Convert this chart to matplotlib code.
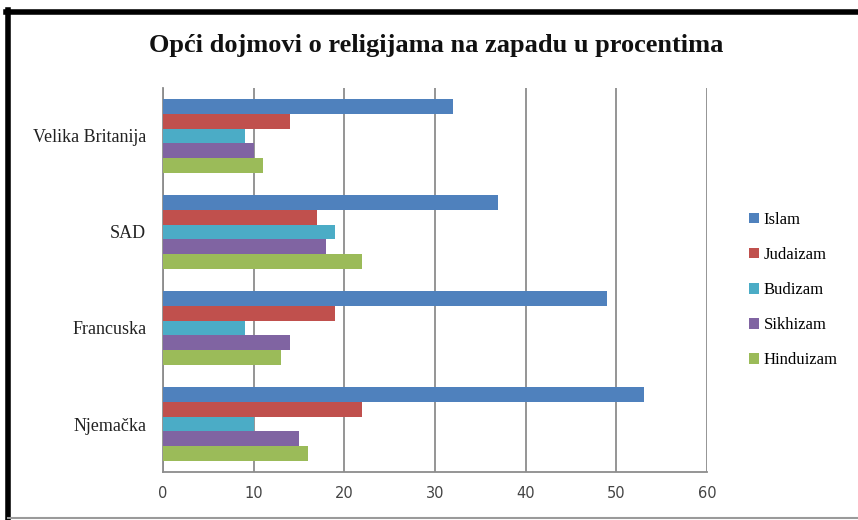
import numpy as np
import matplotlib
matplotlib.use("Agg")
import matplotlib.pyplot as plt
from matplotlib.lines import Line2D

# ----------------------------------------------------------------
# Data
# ----------------------------------------------------------------
countries = ["Velika Britanija", "SAD", "Francuska", "Njemačka"]
islam     = [32, 37, 49, 53]
judaizam  = [14, 17, 19, 22]
budizam   = [9, 19, 9, 10]
sikhizam  = [10, 18, 14, 15]
hinduizam = [11, 22, 13, 16]

series_names  = ["Islam", "Judaizam", "Budizam", "Sikhizam", "Hinduizam"]
series_vals   = [islam, judaizam, budizam, sikhizam, hinduizam]
series_colors = ["#4F81BD", "#C0504D", "#4BACC6", "#8064A2", "#9BBB59"]
x_ticks = [0, 10, 20, 30, 40, 50, 60]

SERIF = "Liberation Serif"

# ----------------------------------------------------------------
# Plot
# ----------------------------------------------------------------
fig = plt.figure(figsize=(8.58, 5.2), dpi=100)
ax = fig.add_axes([0.190, 0.0923, 0.634, 0.7385])

n_ser = len(series_names)
h = 1.0 / (n_ser + 1.5)
# categories top to bottom: first country at top
ypos = np.arange(len(countries))[::-1]
for i, (name, vals, col) in enumerate(zip(series_names, series_vals, series_colors)):
    offs = (n_ser - 1) / 2 * h - i * h
    ax.barh(ypos + offs, vals, height=h, color=col, edgecolor="none",
            label=name, zorder=3)

ax.set_xlim(0, 60)
ax.set_ylim(-0.5, len(countries) - 0.5)
ax.set_xticks(x_ticks)
ax.set_xticklabels([str(t) for t in x_ticks], fontsize=10.5,
                   family="DejaVu Sans", color="#444444")
ax.set_yticks(ypos)
ax.set_yticklabels(countries, fontsize=13, family=SERIF, color="#222222")
ax.tick_params(length=0, pad=12)
ax.tick_params(axis="x", pad=10)
ax.grid(axis="x", color="#8c8c8c", linewidth=1.3, zorder=0)
for s in ["top", "right"]:
    ax.spines[s].set_visible(False)
for s in ["left", "bottom"]:
    ax.spines[s].set_color("#8c8c8c")
    ax.spines[s].set_linewidth(1.3)

fig.text(0.508, 0.912, "Opći dojmovi o religijama na zapadu u procentima",
         ha="center", va="center", fontsize=19, fontweight="bold",
         family=SERIF, color="#111111")

leg = fig.legend(loc="center left", bbox_to_anchor=(0.855, 0.442),
                 frameon=False, handlelength=0.6, handleheight=0.6,
                 handletextpad=0.3, labelspacing=1.15,
                 prop={"family": SERIF, "size": 12})

# chart frame
fig.add_artist(Line2D([0.009, 0.009], [0.0, 0.98], transform=fig.transFigure,
                      color="black", linewidth=4))
fig.add_artist(Line2D([0.007, 1.0], [0.977, 0.977], transform=fig.transFigure,
                      color="black", linewidth=4))
fig.add_artist(Line2D([0.009, 1.0], [0.004, 0.004], transform=fig.transFigure,
                      color="#9a9a9a", linewidth=1.5))

fig.savefig("out.png", dpi=100)
